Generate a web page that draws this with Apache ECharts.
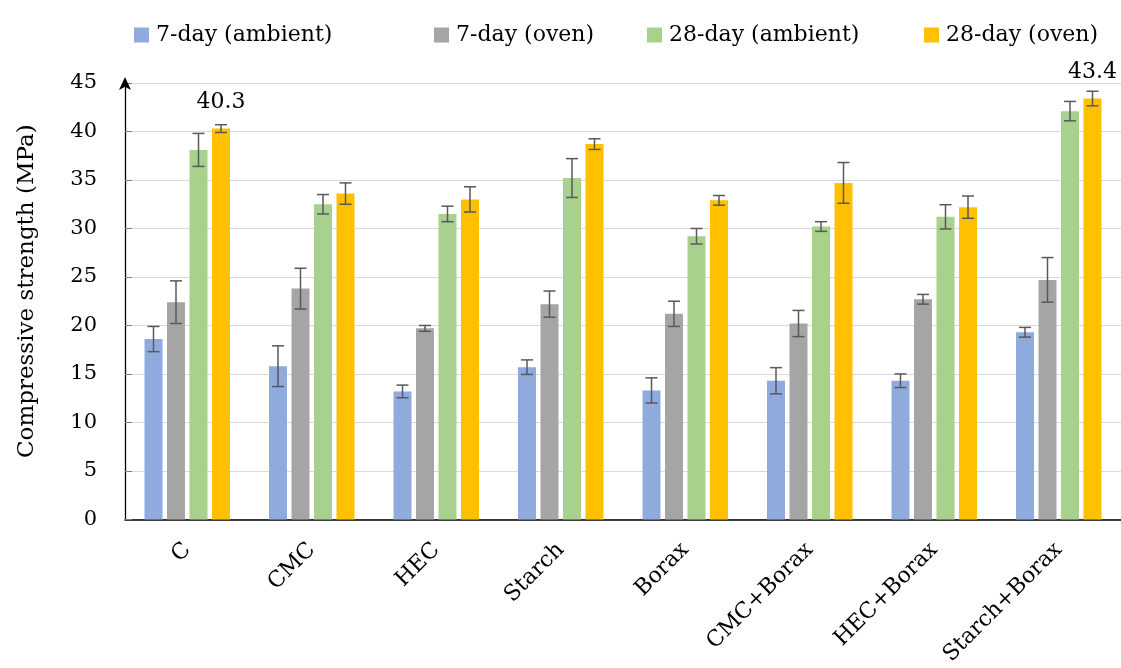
<!DOCTYPE html>
<html>
<head>
<meta charset="utf-8">
<script src="https://cdn.jsdelivr.net/npm/echarts@6/dist/echarts.min.js"></script>
<style>
  html, body { margin: 0; padding: 0; background: #fff; }
  #chart { width: 1121px; height: 668px; }
</style>
</head>
<body>
<div id="chart"></div>
<script>
// Mixtures tested
const categories = ['C', 'CMC', 'HEC', 'Starch', 'Borax', 'CMC+Borax', 'HEC+Borax', 'Starch+Borax'];
const seriesNames = ['7-day (ambient)', '7-day (oven)', '28-day (ambient)', '28-day (oven)'];

// Compressive strength (MPa) and standard deviation per curing regime
const ambient7    = [18.6, 15.8, 13.2, 15.7, 13.3, 14.3, 14.3, 19.3];
const ambient7Err = [1.3, 2.1, 0.65, 0.75, 1.3, 1.35, 0.7, 0.5];
const oven7       = [22.4, 23.8, 19.7, 22.2, 21.2, 20.2, 22.7, 24.7];
const oven7Err    = [2.2, 2.1, 0.3, 1.35, 1.3, 1.35, 0.5, 2.3];
const ambient28    = [38.1, 32.5, 31.5, 35.2, 29.2, 30.2, 31.2, 42.1];
const ambient28Err = [1.7, 1.0, 0.8, 2.0, 0.8, 0.5, 1.25, 1.0];
const oven28       = [40.3, 33.6, 33.0, 38.7, 32.9, 34.7, 32.2, 43.4];
const oven28Err    = [0.4, 1.1, 1.3, 0.55, 0.5, 2.1, 1.15, 0.75];

// Bars that carry a value label (indices into oven28)
const labelledOven28 = [0, 7];

// Y axis ticks
const yMin = 0, yMax = 45, yStep = 5;

const colors = ['#8FAADC', '#A5A5A5', '#A9D18E', '#FFC000'];
const FONT = 'DejaVu Serif';
const BAR_W = 18;
const BAR_GAP = 0.25;

const values = [ambient7, oven7, ambient28, oven28];
const errors = [ambient7Err, oven7Err, ambient28Err, oven28Err];

function barOffset(idx) {
  const n = values.length;
  const step = BAR_W * (1 + BAR_GAP);
  return (idx - (n - 1) / 2) * step;
}

function barSeries(idx) {
  const data = values[idx].map((v, i) => {
    if (idx === 3 && labelledOven28.includes(i)) {
      return { value: v, label: { show: true } };
    }
    return v;
  });
  return {
    name: seriesNames[idx],
    type: 'bar',
    data: data,
    barWidth: BAR_W,
    barGap: (BAR_GAP * 100) + '%',
    itemStyle: { color: colors[idx] },
    label: {
      show: false,
      position: 'top',
      distance: 15,
      color: '#000',
      fontFamily: FONT,
      fontSize: 22
    },
    emphasis: { disabled: true }
  };
}

function errorSeries(idx) {
  return {
    type: 'custom',
    name: seriesNames[idx] + ' SD',
    data: values[idx].map((v, i) => [i, v - errors[idx][i], v + errors[idx][i]]),
    encode: { x: 0, y: [1, 2] },
    z: 10,
    silent: true,
    renderItem: function (params, api) {
      const cat = api.value(0);
      const lo = api.coord([cat, api.value(1)]);
      const hi = api.coord([cat, api.value(2)]);
      const x = lo[0] + barOffset(idx);
      const half = 6;
      const style = { stroke: '#595959', lineWidth: 1.5 };
      return {
        type: 'group',
        children: [
          { type: 'line', shape: { x1: x, y1: lo[1], x2: x, y2: hi[1] }, style: style },
          { type: 'line', shape: { x1: x - half, y1: hi[1], x2: x + half, y2: hi[1] }, style: style },
          { type: 'line', shape: { x1: x - half, y1: lo[1], x2: x + half, y2: lo[1] }, style: style }
        ]
      };
    }
  };
}

const legendLefts = [129, 429, 642, 919];
const legends = seriesNames.map((name, i) => ({
  data: [name],
  left: legendLefts[i],
  top: 19,
  icon: 'rect',
  itemWidth: 15,
  itemHeight: 15,
  selectedMode: false,
  textStyle: { fontFamily: FONT, fontSize: 22, color: '#000', padding: [0, 0, 0, 2] }
}));

const chart = echarts.init(document.getElementById('chart'), null, { renderer: 'canvas' });
chart.setOption({
  animation: false,
  backgroundColor: '#fff',
  color: colors,
  legend: legends,
  grid: { left: 125, right: -4, top: 83, bottom: 147, containLabel: false },
  xAxis: {
    type: 'category',
    data: categories,
    axisLine: { lineStyle: { color: '#000', width: 1.5 } },
    axisTick: { show: false },
    axisLabel: {
      rotate: 45,
      margin: 27,
      interval: 0,
      color: '#000',
      fontFamily: FONT,
      fontSize: 22
    }
  },
  yAxis: {
    type: 'value',
    min: yMin,
    max: yMax,
    interval: yStep,
    name: 'Compressive strength (MPa)',
    nameLocation: 'middle',
    nameGap: 86,
    nameTextStyle: { fontFamily: FONT, fontSize: 23, color: '#000', padding: [0, 0, 0, 20] },
    axisLine: {
      show: true,
      symbol: ['none', 'arrow'],
      symbolSize: [9, 13],
      symbolOffset: [0, 6],
      lineStyle: { color: '#000', width: 1.3 }
    },
    axisTick: { show: true, inside: true, length: 7, lineStyle: { color: '#7f7f7f' } },
    axisLabel: { margin: 28, color: '#000', fontFamily: FONT, fontSize: 21 },
    splitLine: { lineStyle: { color: '#D9D9D9', width: 1 } }
  },
  series: [0, 1, 2, 3].map(barSeries).concat([0, 1, 2, 3].map(errorSeries))
});
</script>
</body>
</html>
